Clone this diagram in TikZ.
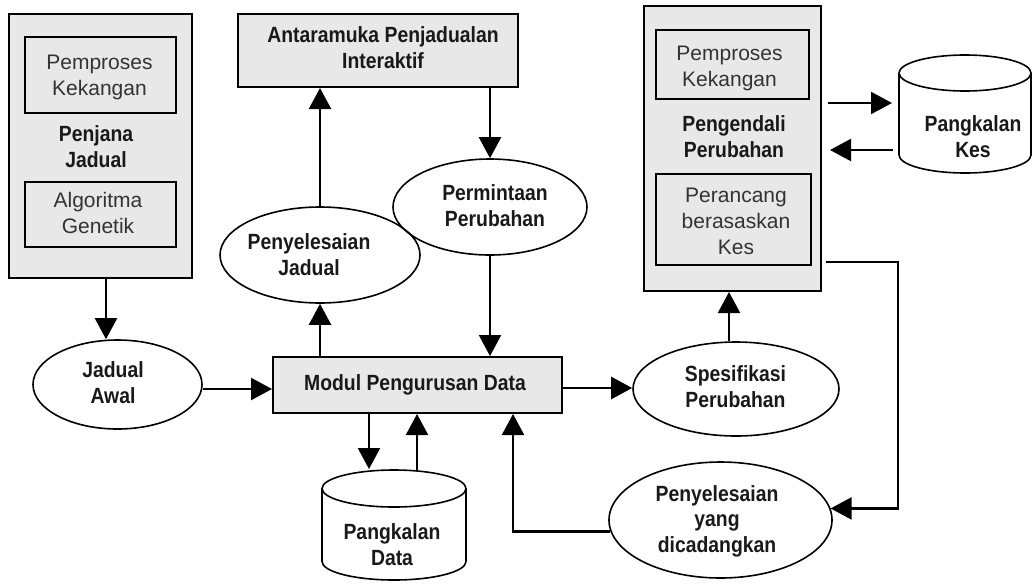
\documentclass[tikz,border=0pt]{standalone}
\usepackage{fontspec}
\setmainfont{Liberation Sans}
\newfontfamily\bl{Liberation Sans Bold}[FakeStretch=0.88]
\usetikzlibrary{arrows.meta,shapes.geometric}
\definecolor{boxgray}{HTML}{E8E8E8}
\definecolor{txtgray}{HTML}{333333}
\tikzset{
  arr/.style={line width=2.2pt,-{Triangle[length=21pt,width=22pt]}},
  ln/.style={line width=2.2pt},
  bigbox/.style={draw,rectangle,line width=2pt,fill=boxgray,inner sep=0pt},
  ibox/.style={draw,rectangle,line width=1.6pt,fill=boxgray,inner sep=0pt},
  ell/.style={draw,ellipse,line width=1.6pt,inner sep=0pt},
  ghost/.style={rectangle,inner sep=0pt,outer sep=0pt},
  cyl/.style={line width=1.6pt},
  reg/.style={font=\fontsize{21}{26}\selectfont,text=txtgray,align=center,inner sep=0pt,anchor=base},
  bld/.style={font=\bl\fontsize{22}{25.5}\selectfont,text=black!90,align=center,inner sep=0pt,anchor=base},
}
\begin{document}
\begin{tikzpicture}[x=1pt,y=-1pt]
\useasboundingbox (0,0) rectangle (1035,584);

% Penjana Jadual
\node[bigbox,minimum width=183pt,minimum height=264pt] (penjana) at (100.5,146) {};
\node[ibox,minimum width=151pt,minimum height=76pt] (pk1) at (100.5,75) {};
\node[ibox,minimum width=151pt,minimum height=65pt] (ag) at (100.5,214.5) {};
\node[reg] (tpk1) at (99.5,95) {Pemproses\\Kekangan};
\node[bld] (tpenjana) at (96,167) {Penjana\\Jadual};
\node[reg] (tag) at (98,233) {Algoritma\\Genetik};

% Antaramuka
\node[bigbox,minimum width=280pt,minimum height=73pt] (ant) at (378,50.5) {};
\node[bld] (tant) at (383,68) {Antaramuka Penjadualan\\Interaktif};

% Pengendali Perubahan
\node[bigbox,minimum width=177pt,minimum height=285pt] (peng) at (732.5,148.5) {};
\node[ibox,minimum width=153pt,minimum height=69pt] (pk2) at (732.5,64.5) {};
\node[ibox,minimum width=155pt,minimum height=91pt] (pbk) at (733.5,219.5) {};
\node[reg] (tpk2) at (729.5,86) {Pemproses\\Kekangan};
\node[bld] (tpeng) at (734,157) {Pengendali\\Perubahan};
\node[reg] (tpbk) at (736,254) {Perancang\\berasaskan\\Kes};

% Pangkalan Kes cylinder
\node[ghost,minimum width=132pt,minimum height=118pt] (pkes) at (965,114) {};
\draw[cyl,fill=white] ([yshift=-18pt]pkes.north west) -- ([yshift=18pt]pkes.south west)
  arc[start angle=180,end angle=360,x radius=66pt,y radius=18pt]
  -- ([yshift=-18pt]pkes.north east)
  arc[start angle=0,end angle=180,x radius=66pt,y radius=18pt] -- cycle;
\draw[cyl] ([yshift=-18pt]pkes.north west) arc[start angle=180,end angle=360,x radius=66pt,y radius=18pt];
\node[bld] (tpkes) at (973,157) {Pangkalan\\Kes};

% Ellipses
\node[ell,minimum width=200pt,minimum height=96pt] (psj) at (320,255) {};
\node[bld] (tpsj) at (309,275) {Penyelesaian\\Jadual};
\node[ell,minimum width=194pt,minimum height=96pt] (pmt) at (490,207) {};
\node[bld] (tpmt) at (495,226) {Permintaan\\Perubahan};
\node[ell,minimum width=169pt,minimum height=89pt] (ja) at (117.5,384.5) {};
\node[bld] (tja) at (113,403) {Jadual\\Awal};
\node[ell,minimum width=206pt,minimum height=94pt] (spes) at (736,389) {};
\node[bld] (tspes) at (735.5,407) {Spesifikasi\\Perubahan};
\node[ell,minimum width=223pt,minimum height=116pt] (dic) at (720.5,520) {};
\node[bld] (tdic) at (717,552) {Penyelesaian\\yang\\dicadangkan};

% Modul
\node[bigbox,minimum width=289pt,minimum height=56pt] (modul) at (417.5,385) {};
\node[bld] (tmodul) at (415,390) {Modul Pengurusan Data};

% Pangkalan Data cylinder
\node[ghost,minimum width=144pt,minimum height=110pt] (pdata) at (394,525) {};
\draw[cyl,fill=white] ([yshift=-18.5pt]pdata.north west) -- ([yshift=18.5pt]pdata.south west)
  arc[start angle=180,end angle=360,x radius=72pt,y radius=18.5pt]
  -- ([yshift=-18.5pt]pdata.north east)
  arc[start angle=0,end angle=180,x radius=72pt,y radius=18.5pt] -- cycle;
\draw[cyl] ([yshift=-18.5pt]pdata.north west) arc[start angle=180,end angle=360,x radius=72pt,y radius=18.5pt];
\node[bld] (tpdata) at (392,565) {Pangkalan\\Data};

% helper coordinates
\coordinate (xa) at (106,0);
\coordinate (xb) at (369,0);
\coordinate (xc) at (417,0);
\coordinate (xd) at (513,0);
\coordinate (xe) at (729,0);
\coordinate (ya) at (0,389);
\coordinate (yb) at (0,103);
\coordinate (yc) at (0,150);
\coordinate (yd) at (0,262);
\coordinate (ye) at (0,388);
\coordinate (corner) at (898,262);

% connectors
\draw[arr] (penjana.south -| xa) -- (ja.north -| xa);
\draw[arr] (ja.east |- ya) -- (modul.west |- ya);
\draw[arr] (modul.north -| psj.south) -- (psj.south);
\draw[arr] (psj.north) -- (ant.south -| psj.north);
\draw[arr] (ant.south -| pmt.north) -- (pmt.north);
\draw[arr] (pmt.south) -- (modul.north -| pmt.south);
\draw[arr] (modul.east |- ye) -- (spes.west |- ye);
\draw[arr] (spes.north -| xe) -- (peng.south -| xe);
\draw[arr] ([xshift=6pt]peng.east |- yb) -- ([xshift=-7pt]pkes.west |- yb);
\draw[arr] ([xshift=-6pt]pkes.west |- yc) -- ([xshift=8pt]peng.east |- yc);
\draw[arr] ([xshift=4pt]peng.east |- yd) -- (corner) |- (dic.6.3);
\draw[arr] (dic.186.3) -| (modul.south -| xd);
\draw[arr] (modul.south -| xb) -- ([yshift=1pt]pdata.north -| xb);
\draw[arr] (pdata.north -| xc) -- (modul.south -| xc);
\end{tikzpicture}
\end{document}
